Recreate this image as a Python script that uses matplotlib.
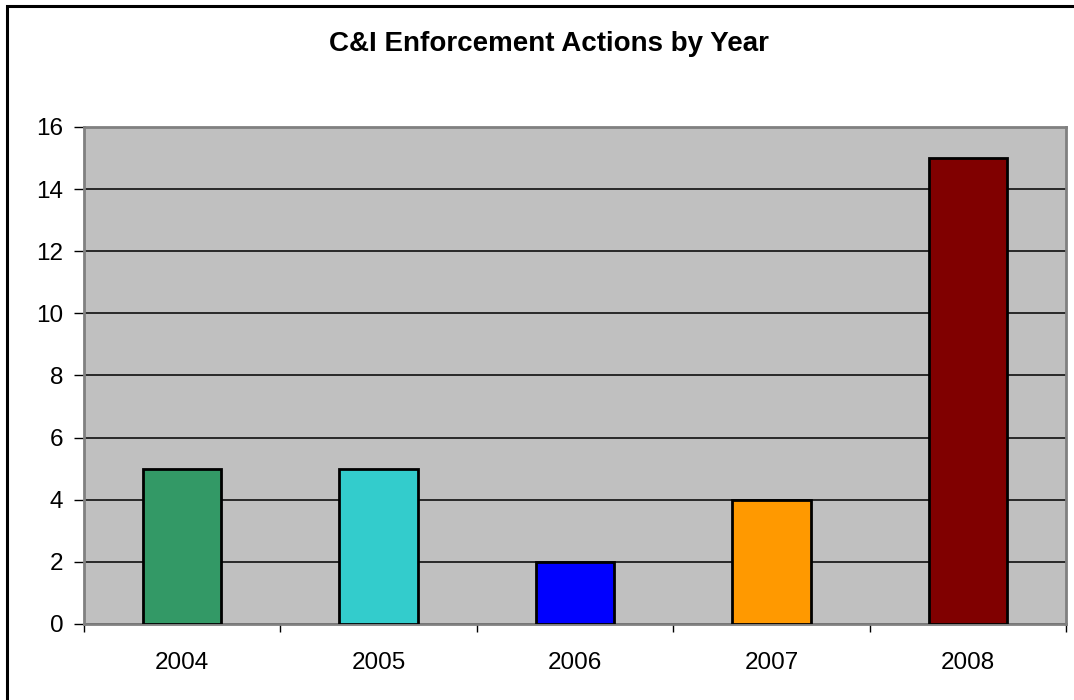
import matplotlib
matplotlib.use("Agg")
import matplotlib.pyplot as plt
from matplotlib.lines import Line2D
import numpy as np

years = ["2004", "2005", "2006", "2007", "2008"]
actions = [5, 5, 2, 4, 15]
bar_colors = ["#339966", "#33cccc", "#0000ff", "#ff9900", "#800000"]
y_ticks = [0, 2, 4, 6, 8, 10, 12, 14, 16]

plt.rcParams["font.family"] = ["Liberation Sans", "DejaVu Sans"]

fig = plt.figure(figsize=(10.74, 7.0), dpi=100)
ax = fig.add_axes([0.0782, 0.1086, 0.9144, 0.71])

# outer chart frame: only the left and top edges show in the image
fx, fy = 7.5 / 1074, 1 - 6 / 700
fig.lines.append(Line2D([fx, fx, 1.1], [-0.1, fy, fy], transform=fig.transFigure,
                        color="black", linewidth=2.2, solid_joinstyle="miter"))

x = np.arange(len(years))
ax.set_facecolor("#c0c0c0")
ax.bar(x, actions, width=0.4, color=bar_colors, edgecolor="black", linewidth=2, zorder=3)

ax.set_xlim(-0.5, len(years) - 0.5)
ax.set_ylim(0, 16)
ax.set_yticks(y_ticks)
ax.set_yticklabels([str(t) for t in y_ticks], fontsize=17.5)
ax.yaxis.grid(True, color="black", linewidth=1.1, zorder=1)
ax.set_axisbelow(True)

ax.set_xticks(x)
ax.set_xticklabels(years, fontsize=17.5)
ax.set_xticks(np.arange(len(years) + 1) - 0.5, minor=True)
ax.tick_params(axis="x", which="major", length=0, pad=20)
ax.tick_params(axis="x", which="minor", length=6, width=1, direction="out", color="black")
ax.tick_params(axis="y", length=7, width=1, direction="out", color="black", pad=8)

for s in ax.spines.values():
    s.set_color("#808080")
    s.set_linewidth(2)

fig.text(549 / 1074, 1 - 44 / 700, "C&I Enforcement Actions by Year", ha="center", va="center",
         fontsize=20, fontweight="bold")

fig.savefig("out.png", dpi=100)
